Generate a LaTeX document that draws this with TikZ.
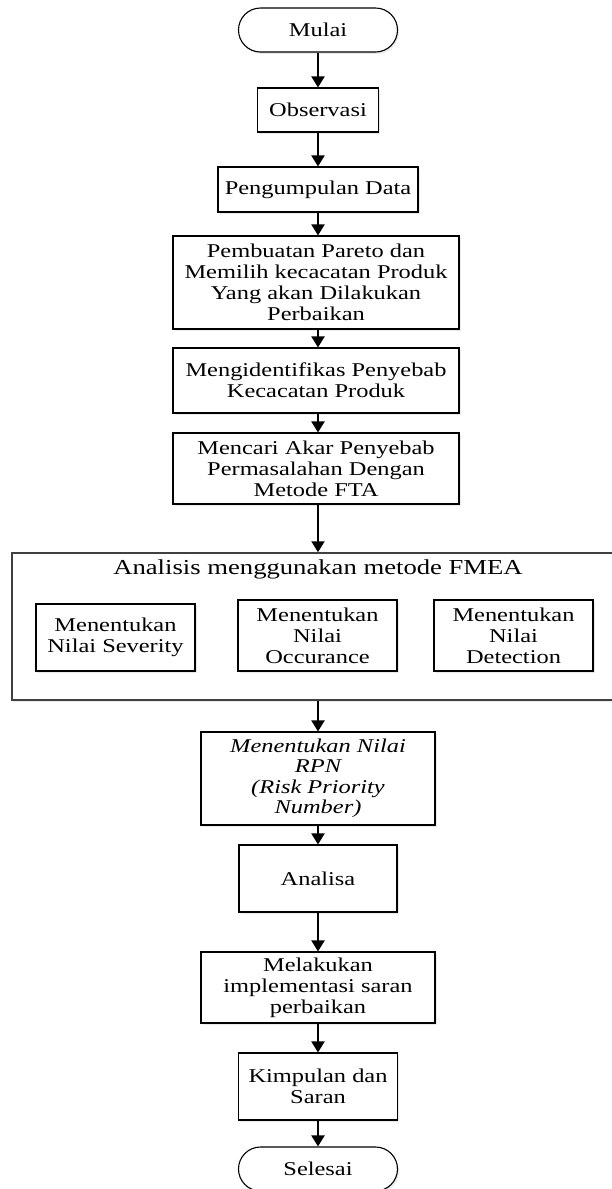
\documentclass[tikz,border=0pt]{standalone}
\usepackage{fontspec}
\setmainfont{Liberation Serif}[FakeStretch=1.25]
\usetikzlibrary{arrows.meta, shadows}

\begin{document}
\begin{tikzpicture}[x=1bp, y=-1bp,
  box/.style={draw=black, line width=1.1bp, fill=white, align=center, inner sep=0pt,
    font=\fontsize{19.6}{21}\selectfont,
    drop shadow={shadow xshift=1.5bp, shadow yshift=-2bp, fill=blue!25!black!25, opacity=0.35}},
  ends/.style={box, rounded corners=22bp},
  flow/.style={-{Triangle[width=13bp,length=11bp]}, line width=2bp}]
\useasboundingbox (0,0) rectangle (612,1189);
\clip (0,0) rectangle (612,1189);

\node[ends, minimum width=159bp, minimum height=44bp] (mulai) at (318,30) {Mulai};
\node[box, minimum width=121bp, minimum height=44bp] (observasi) at (318,110) {Observasi};
\node[box, minimum width=200bp, minimum height=45bp] (data) at (318,189.5) {Pengumpulan Data};
\node[box, minimum width=286bp, minimum height=93bp] (pareto) at (316,282.5)
  {Pembuatan Pareto dan\\ Memilih kecacatan Produk\\ Yang akan Dilakukan\\ Perbaikan};
\node[box, minimum width=286bp, minimum height=65bp] (identifikasi) at (316,380.5)
  {Mengidentifikas Penyebab\\ Kecacatan Produk};
\node[box, minimum width=286bp, minimum height=71bp] (akar) at (316,468.5)
  {Mencari Akar Penyebab\\ Permasalahan Dengan\\ Metode FTA};

\node[box, draw=black!75, line width=1.5bp, minimum width=612bp, minimum height=147bp] (fmea) at (318,626.5) {};
\node[font=\fontsize{21.4}{23}\selectfont, anchor=base] (judul) at (318,574) {Analisis menggunakan metode FMEA};
\node[box, minimum width=159bp, minimum height=67bp] (severity) at (115.5,637.5) {Menentukan\\ Nilai Severity};
\node[box, minimum width=159bp, minimum height=71bp] (occurance) at (317.5,635.5) {Menentukan\\ Nilai\\ Occurance};
\node[box, minimum width=159bp, minimum height=71bp] (detection) at (513.5,635.5) {Menentukan\\ Nilai\\ Detection};

\node[box, font=\fontsize{19.6}{20.5}\selectfont\itshape, minimum width=234bp, minimum height=93bp] (rpn) at (318,778.5)
  {Menentukan Nilai\\ RPN\\ (Risk Priority\\ Number)};
\node[box, minimum width=158bp, minimum height=67bp] (analisa) at (318,878.5) {Analisa};
\node[box, minimum width=234bp, minimum height=71bp] (melakukan) at (318,987.5)
  {Melakukan\\ implementasi saran\\ perbaikan};
\node[box, minimum width=159bp, minimum height=67bp] (kesimpulan) at (318,1086.5) {Kimpulan dan\\ Saran};
\node[ends, minimum width=159bp, minimum height=44bp] (selesai) at (318,1169) {Selesai};

\draw[flow] (mulai) -- (observasi);
\draw[flow] (observasi) -- (data);
\draw[flow] (data.south) -- (data.south |- pareto.north);
\draw[flow] (pareto.south -| data.south) -- (data.south |- identifikasi.north);
\draw[flow] (identifikasi.south -| data.south) -- (data.south |- akar.north);
\draw[flow] (akar.south -| data.south) -- (data.south |- fmea.north);
\draw[flow] (fmea) -- (rpn);
\draw[flow] (rpn) -- (analisa);
\draw[flow] (analisa) -- (melakukan);
\draw[flow] (melakukan) -- (kesimpulan);
\draw[flow] (kesimpulan) -- (selesai);

\end{tikzpicture}
\end{document}
